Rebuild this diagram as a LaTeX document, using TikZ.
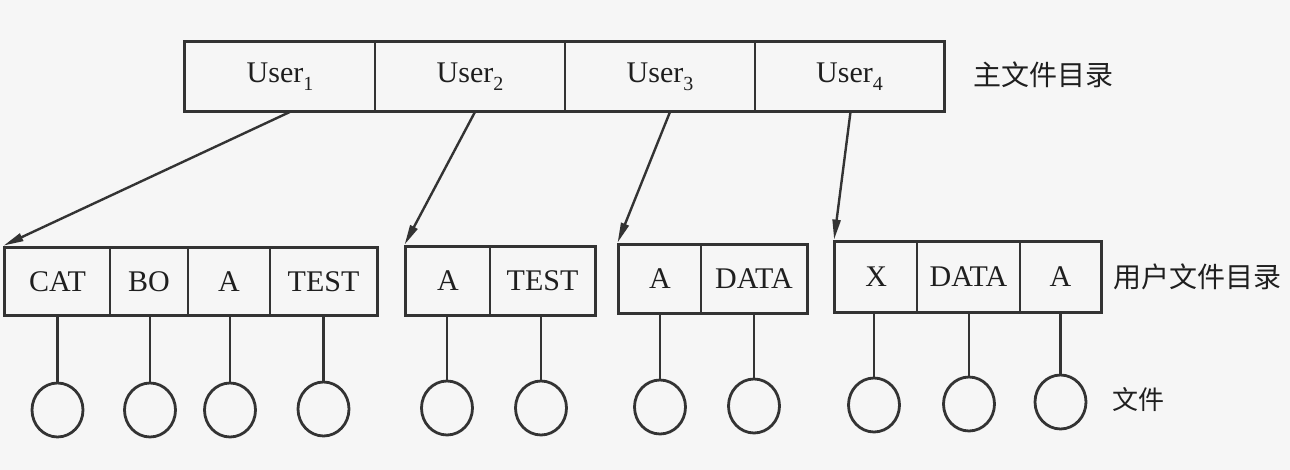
\documentclass[tikz,border=0pt]{standalone}
\usepackage{fontspec}
\setmainfont{Liberation Serif}
\newfontfamily\cjk{Noto Sans CJK SC}
\usetikzlibrary{fit,arrows.meta,shapes.geometric}
\definecolor{ink}{rgb}{0.2,0.2,0.2}
\definecolor{txt}{rgb}{0.12,0.12,0.12}
\definecolor{paper}{rgb}{0.965,0.965,0.965}
\newcommand{\usr}[1]{User\raisebox{-0.28em}{\fontsize{20}{20}\selectfont #1}}
\tikzset{
  cell/.style={draw=ink, line width=1.8pt, rectangle, inner sep=0pt, text=txt,
    font=\fontsize{30}{30}\selectfont},
  outer/.style={draw=ink, line width=3pt, rectangle, inner sep=0pt},
  fcirc/.style={draw=ink, line width=2.8pt, ellipse, minimum width=51pt, minimum height=54pt, inner sep=0pt},
  link/.style={draw=ink, line width=2.2pt},
  ptr/.style={draw=ink, line width=2.4pt, -{Triangle[length=20pt,width=8pt]}},
  lab/.style={text=txt, anchor=west, inner sep=0pt, font=\cjk\fontsize{28}{28}\selectfont}
}
\begin{document}
\begin{tikzpicture}[x=1pt,y=-1pt]
\fill[paper] (0,0) rectangle (1290,470);
\useasboundingbox (0,0) rectangle (1290,470);
% master directory
\node[cell, minimum width=190pt, minimum height=69pt] (u1) at (280,76.5) {\usr{1}};
\node[cell, minimum width=190pt, minimum height=69pt] (u2) at (470,76.5) {\usr{2}};
\node[cell, minimum width=190pt, minimum height=69pt] (u3) at (660,76.5) {\usr{3}};
\node[cell, minimum width=189pt, minimum height=69pt] (u4) at (849.5,76.5) {\usr{4}};
\node[outer, fit=(u1)(u4)] (mfd) {};
\node[lab] (lmfd) at (973,75) {主文件目录};
% user directory 1
\node[cell, minimum width=105pt, minimum height=67pt] (a1) at (57.5,281.5) {CAT};
\node[cell, minimum width=78pt, minimum height=67pt] (a2) at (149,281.5) {BO};
\node[cell, minimum width=82pt, minimum height=67pt] (a3) at (229,281.5) {A};
\node[cell, minimum width=107pt, minimum height=67pt] (a4) at (323.5,281.5) {TEST};
\node[outer, fit=(a1)(a4)] (ufd1) {};
% user directory 2
\node[cell, minimum width=84pt, minimum height=68pt] (b1) at (448,281) {A};
\node[cell, minimum width=105pt, minimum height=68pt] (b2) at (542.5,281) {TEST};
\node[outer, fit=(b1)(b2)] (ufd2) {};
% user directory 3
\node[cell, minimum width=82pt, minimum height=68pt] (c1) at (660,279) {A};
\node[cell, minimum width=106pt, minimum height=68pt] (c2) at (754,279) {DATA};
\node[outer, fit=(c1)(c2)] (ufd3) {};
% user directory 4
\node[cell, minimum width=81.5pt, minimum height=70pt] (d1) at (876.25,277) {X};
\node[cell, minimum width=103pt, minimum height=70pt] (d2) at (968.5,277) {DATA};
\node[cell, minimum width=81pt, minimum height=70pt] (d3) at (1060.5,277) {A};
\node[outer, fit=(d1)(d3)] (ufd4) {};
\node[lab] (lufd) at (1113,277) {用户文件目录};
% files
\node[fcirc] (fa1) at (57.5,410) {};
\node[fcirc] (fa2) at (150,410) {};
\node[fcirc] (fa3) at (230,410) {};
\node[fcirc] (fa4) at (323.5,409) {};
\node[fcirc] (fb1) at (447,408) {};
\node[fcirc] (fb2) at (541,408) {};
\node[fcirc] (fc1) at (660,407) {};
\node[fcirc] (fc2) at (754,406) {};
\node[fcirc] (fd1) at (874,405) {};
\node[fcirc] (fd2) at (969,404) {};
\node[fcirc] (fd3) at (1060.5,402) {};
\node[lab, font=\cjk\fontsize{26}{26}\selectfont] (lf) at (1112,400) {文件};
\foreach \c/\f in {a1/fa1,a2/fa2,a3/fa3,a4/fa4,b1/fb1,b2/fb2,c1/fc1,c2/fc2,d1/fd1,d2/fd2,d3/fd3}
  \draw[link] (\f.north |- \c.south) -- (\f.north);
% pointers
\draw[ptr] ([xshift=10pt]u1.south) -- ([xshift=1pt]ufd1.north west);
\draw[ptr] ([xshift=5pt]u2.south) -- ([xshift=1pt]ufd2.north west);
\draw[ptr] ([xshift=10pt]u3.south) -- ([xshift=1pt]ufd3.north west);
\draw[ptr] ([xshift=1pt]u4.south) -- ([xshift=1pt]ufd4.north west);
\end{tikzpicture}
\end{document}
